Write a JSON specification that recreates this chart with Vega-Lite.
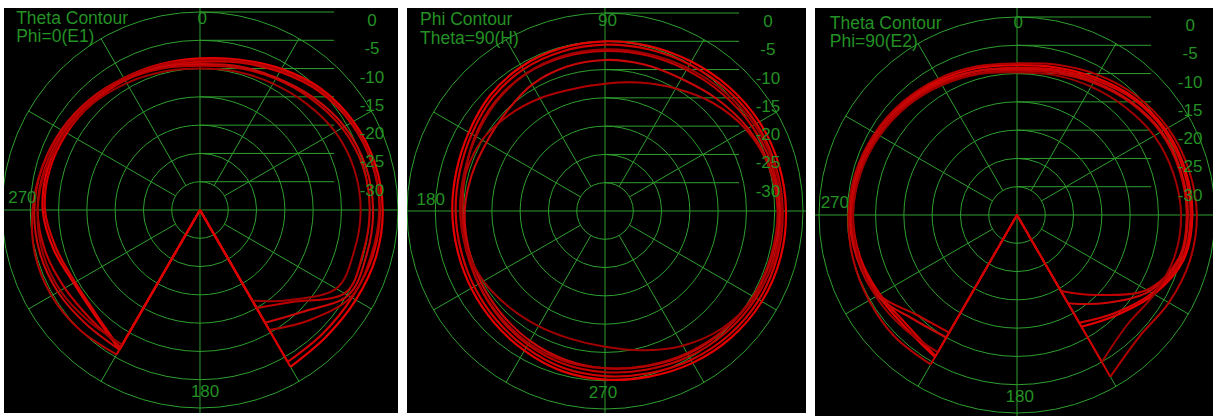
{
  "$schema": "https://vega.github.io/schema/vega-lite/v6.json",
  "background": "white",
  "padding": {"left": 4, "top": 8, "right": 0, "bottom": 0},
  "spacing": 9,
  "config": {"view": {"stroke": null}},
  "datasets": {
    "rings": [{"x":0,"y":0,"r":5},{"x":0,"y":0,"r":10},{"x":0,"y":0,"r":15},{"x":0,"y":0,"r":20},{"x":0,"y":0,"r":25},{"x":0,"y":0,"r":30},{"x":0,"y":0,"r":35}],
    "rules": [
      {"x":-40,"y":0,"x2":40,"y2":0},{"x":0,"y":-40,"x2":0,"y2":40},
      {"x":2.5,"y":4.33,"x2":17.5,"y2":30.311},{"x":4.33,"y":2.5,"x2":30.311,"y2":17.5},
      {"x":4.33,"y":-2.5,"x2":30.311,"y2":-17.5},{"x":2.5,"y":-4.33,"x2":17.5,"y2":-30.311},
      {"x":-2.5,"y":-4.33,"x2":-17.5,"y2":-30.311},{"x":-4.33,"y":-2.5,"x2":-30.311,"y2":-17.5},
      {"x":-4.33,"y":2.5,"x2":-30.311,"y2":17.5},{"x":-2.5,"y":4.33,"x2":-17.5,"y2":30.311},
      {"x":0,"y":5,"x2":23.7,"y2":5},{"x":0,"y":10,"x2":23.7,"y2":10},{"x":0,"y":15,"x2":23.7,"y2":15},
      {"x":0,"y":20,"x2":23.7,"y2":20},{"x":0,"y":25,"x2":23.7,"y2":25},{"x":0,"y":30,"x2":23.7,"y2":30},
      {"x":0,"y":35,"x2":23.7,"y2":35}
    ],
    "p1": [
      {"a":0,"t1":-8.2,"t2":-8.8,"t3":-9.5,"t4":-9.2,"t5":-8.5,"t6":-10.0},
      {"a":15,"t1":-7.5,"t2":-8.0,"t3":-9.0,"t4":-8.7,"t5":-7.8,"t6":-9.7},
      {"a":30,"t1":-6.2,"t2":-6.8,"t3":-8.2,"t4":-8.0,"t5":-6.5,"t6":-9.2},
      {"a":45,"t1":-4.7,"t2":-5.3,"t3":-7.2,"t4":-6.8,"t5":-5.0,"t6":-8.4},
      {"a":60,"t1":-3.7,"t2":-4.2,"t3":-6.0,"t4":-5.5,"t5":-4.0,"t6":-7.4},
      {"a":75,"t1":-3.0,"t2":-3.5,"t3":-5.2,"t4":-4.7,"t5":-3.4,"t6":-6.8},
      {"a":90,"t1":-2.7,"t2":-3.2,"t3":-5.0,"t4":-4.4,"t5":-3.3,"t6":-6.6},
      {"a":105,"t1":-2.8,"t2":-3.4,"t3":-5.2,"t4":-4.5,"t5":-3.7,"t6":-6.8},
      {"a":120,"t1":-3.2,"t2":-4.0,"t3":-5.5,"t4":-4.8,"t5":-4.2,"t6":-7.2},
      {"a":135,"t1":-3.4,"t2":-4.2,"t3":-12.0,"t4":-9.5,"t5":-7.5,"t6":-12.5},
      {"a":150,"t1":-3.0,"t2":-4.0,"t3":-15.0,"t4":-12.0,"t5":-10.5,"t6":-16.5},
      {"a":180,"t1":-40,"t2":-40,"t3":-40,"t4":-40,"t5":-40,"t6":-40},
      {"a":210,"t1":-6.5,"t2":-6.7,"t3":-7.0,"t4":-6.5,"t5":-5.5,"t6":-7.5},
      {"a":225,"t1":-8.7,"t2":-9.0,"t3":-7.7,"t4":-6.5,"t5":-5.0,"t6":-7.2},
      {"a":240,"t1":-9.2,"t2":-9.5,"t3":-7.4,"t4":-6.0,"t5":-4.7,"t6":-6.5},
      {"a":255,"t1":-8.2,"t2":-8.7,"t3":-6.7,"t4":-5.7,"t5":-4.8,"t6":-6.2},
      {"a":270,"t1":-7.2,"t2":-7.6,"t3":-6.3,"t4":-5.7,"t5":-5.4,"t6":-6.3},
      {"a":285,"t1":-7.1,"t2":-7.5,"t3":-6.6,"t4":-6.1,"t5":-6.1,"t6":-6.8},
      {"a":300,"t1":-7.4,"t2":-7.8,"t3":-7.2,"t4":-6.7,"t5":-6.9,"t6":-7.5},
      {"a":315,"t1":-7.8,"t2":-8.2,"t3":-7.9,"t4":-7.4,"t5":-7.6,"t6":-8.3},
      {"a":330,"t1":-8.1,"t2":-8.5,"t3":-8.5,"t4":-8.1,"t5":-8.1,"t6":-9.1},
      {"a":345,"t1":-8.3,"t2":-8.7,"t3":-9.1,"t4":-8.8,"t5":-8.4,"t6":-9.7}
    ],
    "p2": [
      {"a":0,"t1":-3.0,"t2":-3.6,"t3":-4.0,"t4":-4.2,"t5":-4.5,"t6":-3.7},
      {"a":15,"t1":-3.2,"t2":-3.8,"t3":-4.4,"t4":-4.8,"t5":-5.0,"t6":-4.0},
      {"a":30,"t1":-3.5,"t2":-4.1,"t3":-5.0,"t4":-5.8,"t5":-6.2,"t6":-4.5},
      {"a":45,"t1":-4.0,"t2":-4.6,"t3":-5.7,"t4":-7.0,"t5":-8.0,"t6":-5.2},
      {"a":60,"t1":-4.5,"t2":-5.1,"t3":-6.2,"t4":-8.0,"t5":-10.0,"t6":-5.8},
      {"a":75,"t1":-4.8,"t2":-5.4,"t3":-6.5,"t4":-8.2,"t5":-11.5,"t6":-6.2},
      {"a":90,"t1":-5.0,"t2":-5.6,"t3":-6.7,"t4":-8.3,"t5":-12.5,"t6":-6.4},
      {"a":105,"t1":-5.2,"t2":-5.8,"t3":-6.8,"t4":-8.6,"t5":-12.7,"t6":-6.6},
      {"a":120,"t1":-5.5,"t2":-6.1,"t3":-7.0,"t4":-9.2,"t5":-12.0,"t6":-7.0},
      {"a":135,"t1":-6.2,"t2":-6.8,"t3":-7.6,"t4":-10.3,"t5":-11.0,"t6":-7.8},
      {"a":150,"t1":-7.2,"t2":-7.8,"t3":-8.5,"t4":-10.8,"t5":-9.9,"t6":-8.7},
      {"a":165,"t1":-7.8,"t2":-8.4,"t3":-9.4,"t4":-10.6,"t5":-9.5,"t6":-9.2},
      {"a":180,"t1":-8.0,"t2":-8.6,"t3":-9.8,"t4":-10.2,"t5":-9.4,"t6":-9.4},
      {"a":195,"t1":-8.0,"t2":-8.6,"t3":-9.7,"t4":-10.0,"t5":-9.5,"t6":-9.7},
      {"a":210,"t1":-7.7,"t2":-8.3,"t3":-9.2,"t4":-9.7,"t5":-9.2,"t6":-10.2},
      {"a":225,"t1":-7.2,"t2":-7.8,"t3":-8.5,"t4":-9.2,"t5":-8.7,"t6":-11.0},
      {"a":240,"t1":-6.5,"t2":-7.1,"t3":-7.7,"t4":-8.5,"t5":-8.0,"t6":-11.5},
      {"a":255,"t1":-5.7,"t2":-6.3,"t3":-7.0,"t4":-7.8,"t5":-7.5,"t6":-11.6},
      {"a":270,"t1":-5.2,"t2":-5.8,"t3":-6.5,"t4":-7.2,"t5":-7.2,"t6":-11.0},
      {"a":285,"t1":-4.7,"t2":-5.3,"t3":-6.0,"t4":-6.6,"t5":-6.7,"t6":-9.5},
      {"a":300,"t1":-4.0,"t2":-4.6,"t3":-5.3,"t4":-5.8,"t5":-6.0,"t6":-7.5},
      {"a":315,"t1":-3.4,"t2":-4.0,"t3":-4.7,"t4":-5.2,"t5":-5.3,"t6":-5.7},
      {"a":330,"t1":-3.0,"t2":-3.6,"t3":-4.2,"t4":-4.7,"t5":-4.8,"t6":-4.5},
      {"a":345,"t1":-2.9,"t2":-3.5,"t3":-4.0,"t4":-4.4,"t5":-4.6,"t6":-3.8}
    ],
    "p3": [
      {"a":0,"t1":-8.5,"t2":-9.0,"t3":-9.5,"t4":-9.2,"t5":-8.2,"t6":-9.8},
      {"a":15,"t1":-8.0,"t2":-8.4,"t3":-9.0,"t4":-8.7,"t5":-7.5,"t6":-9.4},
      {"a":30,"t1":-7.0,"t2":-7.4,"t3":-8.0,"t4":-7.8,"t5":-6.4,"t6":-8.8},
      {"a":45,"t1":-5.7,"t2":-6.0,"t3":-6.8,"t4":-6.6,"t5":-5.2,"t6":-8.0},
      {"a":60,"t1":-4.7,"t2":-5.0,"t3":-5.7,"t4":-5.5,"t5":-4.2,"t6":-7.0},
      {"a":75,"t1":-4.2,"t2":-4.5,"t3":-5.2,"t4":-5.0,"t5":-3.6,"t6":-6.4},
      {"a":90,"t1":-4.0,"t2":-4.3,"t3":-5.0,"t4":-4.8,"t5":-3.2,"t6":-6.0},
      {"a":105,"t1":-4.5,"t2":-4.8,"t3":-5.4,"t4":-5.2,"t5":-3.4,"t6":-6.2},
      {"a":120,"t1":-7.0,"t2":-7.4,"t3":-8.5,"t4":-8.0,"t5":-4.0,"t6":-7.0},
      {"a":135,"t1":-10.0,"t2":-10.5,"t3":-15.0,"t4":-13.0,"t5":-4.5,"t6":-7.5},
      {"a":150,"t1":-12.2,"t2":-13.0,"t3":-19.5,"t4":-17.0,"t5":-2.0,"t6":-5.0},
      {"a":180,"t1":-40,"t2":-40,"t3":-40,"t4":-40,"t5":-40,"t6":-40},
      {"a":210,"t1":-6.0,"t2":-6.2,"t3":-11.0,"t4":-10.0,"t5":-4.5,"t6":-7.0},
      {"a":225,"t1":-7.0,"t2":-7.5,"t3":-10.0,"t4":-9.0,"t5":-4.5,"t6":-6.7},
      {"a":240,"t1":-6.7,"t2":-7.0,"t3":-6.8,"t4":-6.4,"t5":-4.8,"t6":-6.2},
      {"a":255,"t1":-6.0,"t2":-6.3,"t3":-6.0,"t4":-5.7,"t5":-5.0,"t6":-6.0},
      {"a":270,"t1":-5.5,"t2":-6.0,"t3":-5.7,"t4":-5.4,"t5":-5.2,"t6":-6.0},
      {"a":285,"t1":-5.7,"t2":-6.2,"t3":-6.0,"t4":-5.7,"t5":-5.5,"t6":-6.4},
      {"a":300,"t1":-6.2,"t2":-6.7,"t3":-6.6,"t4":-6.2,"t5":-6.0,"t6":-7.0},
      {"a":315,"t1":-6.8,"t2":-7.3,"t3":-7.4,"t4":-7.0,"t5":-6.6,"t6":-7.7},
      {"a":330,"t1":-7.5,"t2":-8.0,"t3":-8.2,"t4":-7.8,"t5":-7.2,"t6":-8.5},
      {"a":345,"t1":-8.1,"t2":-8.6,"t3":-9.0,"t4":-8.6,"t5":-7.8,"t6":-9.2}
    ]
  },
  "hconcat": [
    {
      "width": 394, "height": 405,
      "view": {"fill": "#000000", "stroke": null},
      "encoding": {
        "x": {"field": "x", "type": "quantitative", "scale": {"domain": [-34.646, 35.0], "nice": false, "zero": false}, "axis": null},
        "y": {"field": "y", "type": "quantitative", "scale": {"domain": [-35.884, 35.707], "nice": false, "zero": false}, "axis": null}
      },
      "layer": [
        {"data": {"name": "rings"}, "mark": {"type": "point", "shape": "circle", "filled": false, "opacity": 1, "clip": true, "stroke": "#2f9f2f", "strokeWidth": 1},
         "encoding": {"size": {"field": "r", "type": "quantitative", "scale": {"type": "pow", "exponent": 2, "domain": [0, 35], "range": [0, 156816]}, "legend": null}}},
        {"data": {"name": "rules"}, "mark": {"type": "rule", "clip": true, "color": "#2f9f2f", "strokeWidth": 1},
         "encoding": {"x2": {"field": "x2"}, "y2": {"field": "y2"}}},
        {"data": {"name": "p1"},
         "transform": [
           {"fold": ["t1","t2","t3","t4","t5","t6"], "as": ["s","g"]},
           {"filter": "datum.a >= 150 && datum.a <= 210"},
           {"calculate": "max(0, datum.g + 35)", "as": "r"},
           {"calculate": "datum.r * sin(datum.a * PI / 180)", "as": "x"},
           {"calculate": "datum.r * cos(datum.a * PI / 180)", "as": "y"}
         ],
         "mark": {"type": "line", "clip": true, "strokeJoin": "round", "color": "#d80000", "strokeWidth": 2},
         "encoding": {
           "detail": {"field": "s", "type": "nominal"},
           "order": {"field": "a", "type": "quantitative"}
         }},
        {"data": {"name": "p1"},
         "transform": [
           {"fold": ["t1","t2","t3","t4","t5","t6"], "as": ["s","g"]},
           {"filter": "datum.a != 180"},
           {"calculate": "max(0, datum.g + 35)", "as": "r"},
           {"calculate": "datum.r * sin(datum.a * PI / 180)", "as": "x"},
           {"calculate": "datum.r * cos(datum.a * PI / 180)", "as": "y"},
           {"calculate": "datum.a < 180 ? datum.a + 360 : datum.a", "as": "k"}
         ],
         "mark": {"type": "line", "clip": true, "interpolate": "cardinal", "strokeJoin": "round"},
         "encoding": {
           "color": {"field": "s", "type": "nominal", "scale": {"domain": ["t1","t2","t3","t4","t5","t6"], "range": ["#e40000","#d20000","#c00000","#c80808","#b00000","#a00000"]}, "legend": null},
           "strokeWidth": {"field": "s", "type": "ordinal", "scale": {"domain": ["t1","t2","t3","t4","t5","t6"], "range": [2.2,2,1.5,1.5,1.2,1.2]}, "legend": null},
           "order": {"field": "k", "type": "quantitative"}
         }},
        {"data": {"values": [{"x": -32.5, "y": 33.8, "t": "Theta Contour"}, {"x": -32.5, "y": 30.5, "t": "Phi=0(E1)"}]},
         "mark": {"type": "text", "align": "left", "baseline": "middle", "font": "Liberation Sans", "fontSize": 17.5, "color": "#249124"},
         "encoding": {"text": {"field": "t"}}},
        {"data": {"values": [
          {"x": 0.4, "y": 33.8, "t": "0"}, {"x": -31.4, "y": 2.1, "t": "270"}, {"x": 0.9, "y": -32.2, "t": "180"},
          {"x": 30.4, "y": 33.4, "t": "0"}, {"x": 30.4, "y": 28.4, "t": "-5"}, {"x": 30.4, "y": 23.4, "t": "-10"},
          {"x": 30.4, "y": 18.4, "t": "-15"}, {"x": 30.4, "y": 13.4, "t": "-20"}, {"x": 30.4, "y": 8.4, "t": "-25"}, {"x": 30.4, "y": 3.4, "t": "-30"}]},
         "mark": {"type": "text", "align": "center", "baseline": "middle", "font": "Liberation Sans", "fontSize": 17, "color": "#249124"},
         "encoding": {"text": {"field": "t"}}}
      ]
    },
    {
      "width": 399, "height": 405,
      "view": {"fill": "#000000", "stroke": null},
      "encoding": {
        "x": {"field": "x", "type": "quantitative", "scale": {"domain": [-35.0, 35.53], "nice": false, "zero": false}, "axis": null},
        "y": {"field": "y", "type": "quantitative", "scale": {"domain": [-35.707, 35.884], "nice": false, "zero": false}, "axis": null}
      },
      "layer": [
        {"data": {"name": "rings"}, "mark": {"type": "point", "shape": "circle", "filled": false, "opacity": 1, "clip": true, "stroke": "#2f9f2f", "strokeWidth": 1},
         "encoding": {"size": {"field": "r", "type": "quantitative", "scale": {"type": "pow", "exponent": 2, "domain": [0, 35], "range": [0, 156816]}, "legend": null}}},
        {"data": {"name": "rules"}, "mark": {"type": "rule", "clip": true, "color": "#2f9f2f", "strokeWidth": 1},
         "encoding": {"x2": {"field": "x2"}, "y2": {"field": "y2"}}},
        {"data": {"name": "p2"},
         "transform": [
           {"fold": ["t1","t2","t3","t4","t5","t6"], "as": ["s","g"]},
           {"calculate": "max(0, datum.g + 35)", "as": "r"},
           {"calculate": "datum.r * cos(datum.a * PI / 180)", "as": "x"},
           {"calculate": "datum.r * sin(datum.a * PI / 180)", "as": "y"}
         ],
         "mark": {"type": "line", "clip": true, "interpolate": "cardinal-closed", "strokeJoin": "round"},
         "encoding": {
           "color": {"field": "s", "type": "nominal", "scale": {"domain": ["t1","t2","t3","t4","t5","t6"], "range": ["#e40000","#d20000","#c00000","#c80808","#a00000","#a00000"]}, "legend": null},
           "strokeWidth": {"field": "s", "type": "ordinal", "scale": {"domain": ["t1","t2","t3","t4","t5","t6"], "range": [2.2,2,1.5,1.5,1.2,1.2]}, "legend": null},
           "order": {"field": "a", "type": "quantitative"}
         }},
        {"data": {"values": [{"x": -32.7, "y": 33.8, "t": "Phi Contour"}, {"x": -32.7, "y": 30.4, "t": "Theta=90(H)"}]},
         "mark": {"type": "text", "align": "left", "baseline": "middle", "font": "Liberation Sans", "fontSize": 17.5, "color": "#249124"},
         "encoding": {"text": {"field": "t"}}},
        {"data": {"values": [
          {"x": 0.44, "y": 33.6, "t": "90"}, {"x": -30.8, "y": 1.9, "t": "180"}, {"x": -0.35, "y": -32.2, "t": "270"},
          {"x": 28.8, "y": 33.4, "t": "0"}, {"x": 28.8, "y": 28.4, "t": "-5"}, {"x": 28.8, "y": 23.4, "t": "-10"},
          {"x": 28.8, "y": 18.4, "t": "-15"}, {"x": 28.8, "y": 13.4, "t": "-20"}, {"x": 28.8, "y": 8.4, "t": "-25"}, {"x": 28.8, "y": 3.4, "t": "-30"}]},
         "mark": {"type": "text", "align": "center", "baseline": "middle", "font": "Liberation Sans", "fontSize": 17, "color": "#249124"},
         "encoding": {"text": {"field": "t"}}}
      ]
    },
    {
      "width": 398, "height": 408,
      "view": {"fill": "#000000", "stroke": null},
      "encoding": {
        "x": {"field": "x", "type": "quantitative", "scale": {"domain": [-35.707, 34.646], "nice": false, "zero": false}, "axis": null},
        "y": {"field": "y", "type": "quantitative", "scale": {"domain": [-35.53, 36.591], "nice": false, "zero": false}, "axis": null}
      },
      "layer": [
        {"data": {"name": "rings"}, "mark": {"type": "point", "shape": "circle", "filled": false, "opacity": 1, "clip": true, "stroke": "#2f9f2f", "strokeWidth": 1},
         "encoding": {"size": {"field": "r", "type": "quantitative", "scale": {"type": "pow", "exponent": 2, "domain": [0, 35], "range": [0, 156816]}, "legend": null}}},
        {"data": {"name": "rules"}, "mark": {"type": "rule", "clip": true, "color": "#2f9f2f", "strokeWidth": 1},
         "encoding": {"x2": {"field": "x2"}, "y2": {"field": "y2"}}},
        {"data": {"name": "p3"},
         "transform": [
           {"fold": ["t1","t2","t3","t4","t5","t6"], "as": ["s","g"]},
           {"filter": "datum.a >= 150 && datum.a <= 210"},
           {"calculate": "max(0, datum.g + 35)", "as": "r"},
           {"calculate": "datum.r * sin(datum.a * PI / 180)", "as": "x"},
           {"calculate": "datum.r * cos(datum.a * PI / 180)", "as": "y"}
         ],
         "mark": {"type": "line", "clip": true, "strokeJoin": "round", "color": "#d00000", "strokeWidth": 1.8},
         "encoding": {
           "detail": {"field": "s", "type": "nominal"},
           "order": {"field": "a", "type": "quantitative"}
         }},
        {"data": {"name": "p3"},
         "transform": [
           {"fold": ["t1","t2","t3","t4","t5","t6"], "as": ["s","g"]},
           {"filter": "datum.a != 180"},
           {"calculate": "max(0, datum.g + 35)", "as": "r"},
           {"calculate": "datum.r * sin(datum.a * PI / 180)", "as": "x"},
           {"calculate": "datum.r * cos(datum.a * PI / 180)", "as": "y"},
           {"calculate": "datum.a < 180 ? datum.a + 360 : datum.a", "as": "k"}
         ],
         "mark": {"type": "line", "clip": true, "interpolate": "cardinal", "strokeJoin": "round"},
         "encoding": {
           "color": {"field": "s", "type": "nominal", "scale": {"domain": ["t1","t2","t3","t4","t5","t6"], "range": ["#e40000","#d20000","#c00000","#c80808","#b00000","#a00000"]}, "legend": null},
           "strokeWidth": {"field": "s", "type": "ordinal", "scale": {"domain": ["t1","t2","t3","t4","t5","t6"], "range": [2.2,2,1.5,1.5,1.2,1.2]}, "legend": null},
           "order": {"field": "k", "type": "quantitative"}
         }},
        {"data": {"values": [{"x": -33.1, "y": 33.8, "t": "Theta Contour"}, {"x": -33.1, "y": 30.5, "t": "Phi=90(E2)"}]},
         "mark": {"type": "text", "align": "left", "baseline": "middle", "font": "Liberation Sans", "fontSize": 17.5, "color": "#249124"},
         "encoding": {"text": {"field": "t"}}},
        {"data": {"values": [
          {"x": 0.2, "y": 33.9, "t": "0"}, {"x": -32.2, "y": 2.1, "t": "270"}, {"x": 0.5, "y": -32.2, "t": "180"},
          {"x": 30.6, "y": 33.4, "t": "0"}, {"x": 30.6, "y": 28.4, "t": "-5"}, {"x": 30.6, "y": 23.4, "t": "-10"},
          {"x": 30.6, "y": 18.4, "t": "-15"}, {"x": 30.6, "y": 13.4, "t": "-20"}, {"x": 30.6, "y": 8.4, "t": "-25"}, {"x": 30.6, "y": 3.4, "t": "-30"}]},
         "mark": {"type": "text", "align": "center", "baseline": "middle", "font": "Liberation Sans", "fontSize": 17, "color": "#249124"},
         "encoding": {"text": {"field": "t"}}}
      ]
    }
  ]
}
